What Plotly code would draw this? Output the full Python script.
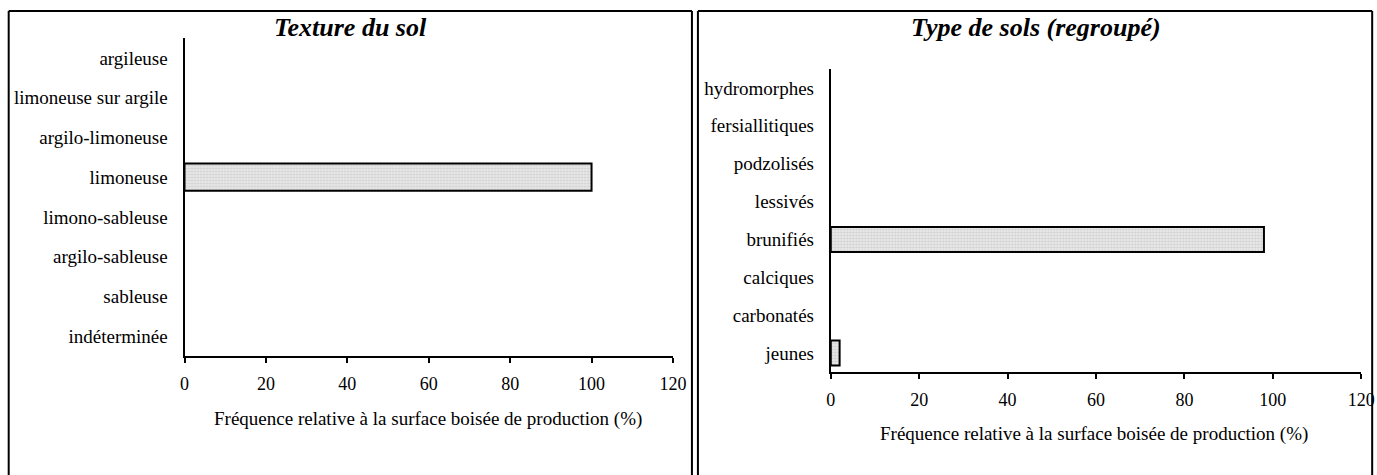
import plotly.graph_objects as go

# DATA
texture_cats = ["argileuse", "limoneuse sur argile", "argilo-limoneuse", "limoneuse",
                "limono-sableuse", "argilo-sableuse", "sableuse", "indéterminée"]
texture_vals = [0, 0, 0, 100, 0, 0, 0, 0]

type_cats = ["hydromorphes", "fersiallitiques", "podzolisés", "lessivés",
             "brunifiés", "calciques", "carbonatés", "jeunes"]
type_vals = [0, 0, 0, 0, 98, 0, 0, 2]

x_ticks = [0, 20, 40, 60, 80, 100, 120]

W, H = 1377, 475
FONT = "Liberation Serif, Times New Roman, serif"


# pixel positions -> paper fractions (small horizontal correction for the page render)
def px(x):
    return ((x - 3.3) / 0.9873) / W


def py(y):
    return 1 - (y - 1) / H


def bar_marker(vals):
    return dict(
        color="#e6e6e6",
        line=dict(color="black", width=[2 if v > 0 else 0 for v in vals]),
        pattern=dict(shape=".", fgcolor="#b0b0b0", bgcolor="#e8e8e8", size=3, solidity=0.35),
    )


fig = go.Figure()
fig.add_trace(go.Bar(x=texture_vals, y=texture_cats, orientation="h",
                     marker=bar_marker(texture_vals), width=0.68,
                     xaxis="x", yaxis="y", showlegend=False))
fig.add_trace(go.Bar(x=type_vals, y=type_cats, orientation="h",
                     marker=bar_marker(type_vals), width=0.66,
                     xaxis="x2", yaxis="y2", showlegend=False))

xcommon = dict(range=[0, 120], tickvals=x_ticks, showline=True, linecolor="black", linewidth=2,
               ticks="outside", ticklen=5, tickwidth=2, tickcolor="black", showgrid=False,
               zeroline=False, tickfont=dict(family=FONT, size=18, color="black"),
               ticklabelstandoff=5, fixedrange=True)
ycommon = dict(showline=True, linecolor="black", linewidth=2, ticks="", showgrid=False,
               zeroline=False, tickfont=dict(family=FONT, size=19, color="black"),
               ticklabelstandoff=11, fixedrange=True, type="category")

fig.update_layout(
    width=W, height=H,
    margin=dict(l=0, r=0, t=0, b=0),
    paper_bgcolor="white", plot_bgcolor="white",
    bargap=0.3,
    xaxis=dict(domain=[px(183), px(672)], anchor="y", **xcommon),
    yaxis=dict(domain=[py(357), py(39)], anchor="x",
               categoryorder="array", categoryarray=texture_cats[::-1], **ycommon),
    xaxis2=dict(domain=[px(830), px(1361)], anchor="y2", **xcommon),
    yaxis2=dict(domain=[py(373), py(70)], anchor="x2",
                categoryorder="array", categoryarray=type_cats[::-1], **ycommon),
)

# panel borders
border = dict(color="black", width=2)
for x0, x1 in [(7, 691), (697, 1372)]:
    fig.add_shape(type="line", xref="paper", yref="paper",
                  x0=px(x0), x1=px(x1), y0=py(12), y1=py(12), line=border)
    fig.add_shape(type="line", xref="paper", yref="paper",
                  x0=px(x0), x1=px(x0), y0=py(12), y1=py(480), line=border)
    fig.add_shape(type="line", xref="paper", yref="paper",
                  x0=px(x1), x1=px(x1), y0=py(12), y1=py(480), line=border)

# titles and axis titles
title_font = dict(family=FONT, size=26, color="black")
axis_font = dict(family=FONT, size=19, color="black")
for text, x, y, f in [
    ("<b><i>Texture du sol</i></b>", 349, 28, title_font),
    ("<b><i>Type de sols (regroupé)</i></b>", 1035, 28, title_font),
    ("Fréquence relative à la surface boisée de production (%)", 427, 420, axis_font),
    ("Fréquence relative à la surface boisée de production (%)", 1094, 435, axis_font),
]:
    fig.add_annotation(text=text, x=px(x), y=py(y), xref="paper", yref="paper",
                       showarrow=False, xanchor="center", yanchor="middle", font=f)

fig.write_html("out.html", config={"displayModeBar": False},
               post_script="document.body.style.margin='0px';"
                           "document.body.style.overflow='hidden';")
